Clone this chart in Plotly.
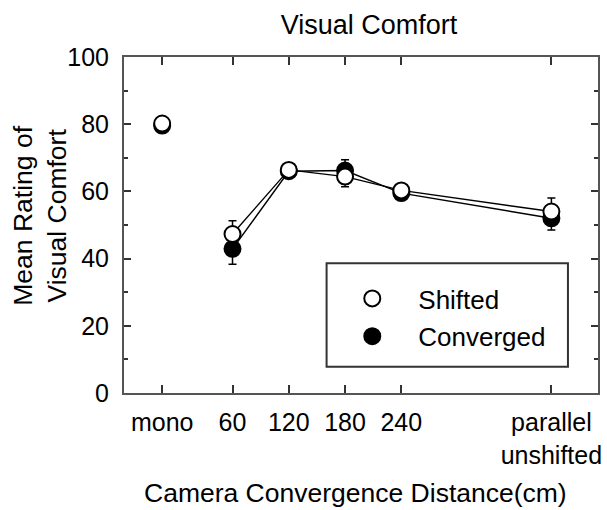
import plotly.graph_objects as go

# ---- data ----
categories = ["mono", "60", "120", "180", "240", "parallel<br>unshifted"]
cat_pos = [-15, 60, 120, 180, 240, 400]  # axis position of each category (cm scale)

shifted = [80.2, 47.3, 66.4, 64.4, 60.3, 54.0]
shifted_err = [1.2, 4.0, 2.0, 3.0, 2.0, 4.0]
converged = [79.6, 42.9, 66.0, 66.2, 59.5, 52.0]
converged_err = [1.2, 4.6, 2.0, 3.2, 2.0, 3.5]

y_ticks = [0, 20, 40, 60, 80, 100]

FONT = "Liberation Sans, Arial, sans-serif"
AX = "#555555"

fig = go.Figure()

def add_series(name, vals, errs, fill, rank):
    mk = dict(symbol="circle", size=16, color=fill, line=dict(color="black", width=2))
    # mono (no line)
    fig.add_trace(go.Scatter(
        x=cat_pos[:1], y=vals[:1], mode="markers", marker=mk,
        error_y=dict(type="data", array=errs[:1], color="black", thickness=1.5, width=4),
        showlegend=False, hoverinfo="skip"))
    # connected distances
    fig.add_trace(go.Scatter(
        x=cat_pos[1:], y=vals[1:], mode="lines+markers",
        line=dict(color="black", width=1.4), marker=mk,
        error_y=dict(type="data", array=errs[1:], color="black", thickness=1.5, width=4),
        showlegend=False))
    # legend entry (marker only)
    fig.add_trace(go.Scatter(
        x=[None], y=[None], mode="markers", marker=mk, name=name,
        legendrank=rank, legendgroup=name, showlegend=True))

add_series("Converged", converged, converged_err, "black", 2)
add_series("Shifted", shifted, shifted_err, "white", 1)

L, R, T, B = 124, 5, 57, 117
W, H = 607, 510
pw, ph = W - L - R, H - T - B

def px_x(p):
    return (p - L) / pw

def px_y(p):
    return (H - B - p) / ph

fig.update_layout(
    width=W, height=H,
    margin=dict(l=L, r=R, t=T, b=B, pad=0),
    paper_bgcolor="white", plot_bgcolor="white",
    font=dict(family=FONT, size=25, color="black"),
    title=dict(text="Visual Comfort", x=px_x(371), xanchor="center",
               y=1 - 25 / H, yanchor="middle", xref="paper", yref="container",
               font=dict(size=27, color="black")),
    showlegend=True,
    legend=dict(x=px_x(328), y=px_y(275), xanchor="left", yanchor="top",
                bgcolor="rgba(0,0,0,0)", borderwidth=0,
                font=dict(size=26, color="black"),
                itemwidth=82, tracegroupgap=1),
    xaxis=dict(
        range=[-55.7, 449.7],
        tickmode="array", tickvals=cat_pos, ticktext=categories,
        ticks="inside", ticklen=8, tickwidth=2, tickcolor="#333333",
        showline=True, linecolor=AX, linewidth=2, mirror="allticks",
        showgrid=False, zeroline=False,
        tickfont=dict(size=25), ticklabelstandoff=6),
    yaxis=dict(
        range=[0, 100],
        tickmode="array", tickvals=y_ticks,
        ticks="inside", ticklen=7, tickwidth=2, tickcolor="#333333",
        minor=dict(dtick=10, ticks="inside", ticklen=4, tickwidth=2, tickcolor="#333333", showgrid=False),
        showline=True, linecolor=AX, linewidth=2, mirror="allticks",
        showgrid=False, zeroline=False,
        tickfont=dict(size=25), ticklabelstandoff=8),
    annotations=[
        dict(text="Mean Rating of<br>Visual Comfort", textangle=-90,
             x=px_x(39), y=px_y(216), xref="paper", yref="paper",
             xanchor="center", yanchor="middle", showarrow=False,
             font=dict(size=26.5, color="black")),
        dict(text="Camera Convergence Distance(cm)",
             x=px_x(357), y=px_y(493), xref="paper", yref="paper",
             xanchor="center", yanchor="middle", showarrow=False,
             font=dict(size=26.5, color="black")),
    ],
    shapes=[dict(type="rect", xref="paper", yref="paper",
                 x0=px_x(328.3), x1=px_x(571.7), y0=px_y(366.7), y1=px_y(263.3),
                 line=dict(color="#333333", width=2), fillcolor="rgba(0,0,0,0)")],
)

fig.write_html("out.html", config={"displayModeBar": False},
               post_script="document.body.style.margin='0';document.body.style.padding='0';")
